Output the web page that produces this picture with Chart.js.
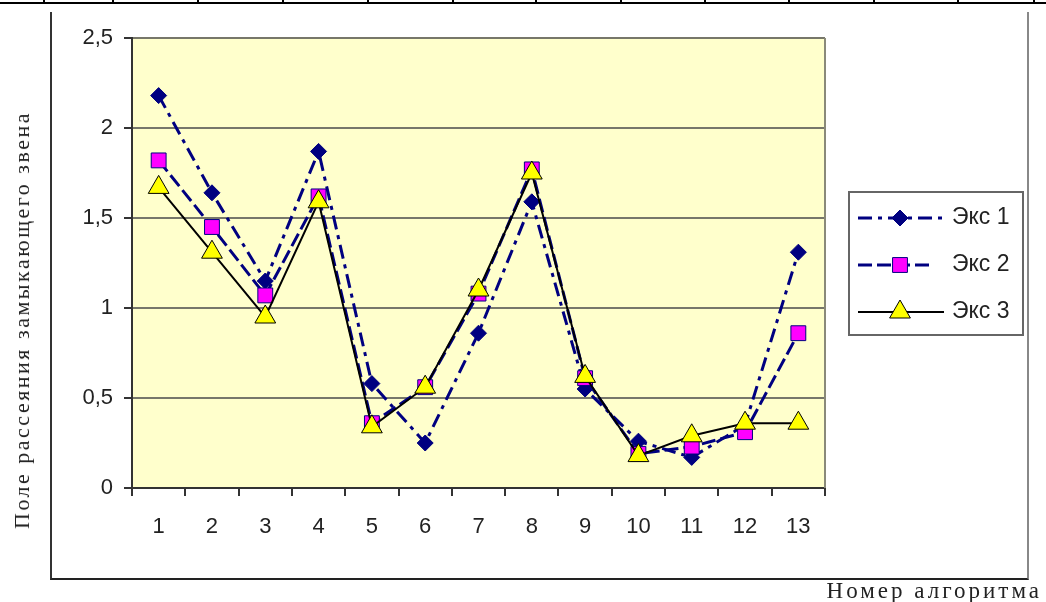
<!DOCTYPE html>
<html lang="ru">
<head>
<meta charset="UTF-8">
<script src="https://cdn.jsdelivr.net/npm/chart.js"></script>
<title>Поле рассеяния</title>
<style>
  body { margin: 0; background: #fff; }
  #page { position: relative; width: 1046px; height: 602px; overflow: hidden; background: #fff; }
  #myChart { position: absolute; left: 0; top: 0; }
  .topline { position: absolute; left: 0; top: 2px; width: 1046px; border-top: 2px solid #000; }
  .tk { position: absolute; top: 0; width: 2px; height: 3px; background: #000; }
  .frame { position: absolute; left: 50px; top: 12px; width: 975px; height: 566px;
           border-left: 2px solid #333; border-right: 2px solid #888; border-bottom: 2px solid #222; }
  .ytitle { position: absolute; left: 22px; top: 320px; transform: translate(-50%, -50%) rotate(-90deg);
            white-space: nowrap; font-family: "Liberation Serif", serif; font-size: 22px;
            letter-spacing: 2.5px; color: #222; }
  .xtitle { position: absolute; right: 4px; top: 578px; white-space: nowrap;
            font-family: "Liberation Serif", serif; font-size: 23px; letter-spacing: 3px; color: #222; }
</style>
</head>
<body>
<div id="page">
  <div class="topline"></div>
  <div class="tk" style="left:43px"></div><div class="tk" style="left:112px"></div>
  <div class="tk" style="left:197px"></div><div class="tk" style="left:282px"></div>
  <div class="tk" style="left:367px"></div><div class="tk" style="left:452px"></div>
  <div class="tk" style="left:535px"></div><div class="tk" style="left:620px"></div>
  <div class="tk" style="left:704px"></div><div class="tk" style="left:788px"></div>
  <div class="tk" style="left:873px"></div><div class="tk" style="left:957px"></div>
  <div class="tk" style="left:1033px"></div>
  <div class="frame"></div>
  <canvas id="myChart" width="1046" height="602"></canvas>
  <div class="ytitle">Поле рассеяния замыкающего звена</div>
  <div class="xtitle">Номер алгоритма</div>
</div>
<script>
// номера алгоритмов
const labels = ['1', '2', '3', '4', '5', '6', '7', '8', '9', '10', '11', '12', '13'];
const eks1 = [2.18, 1.64, 1.15, 1.87, 0.58, 0.25, 0.86, 1.59, 0.55, 0.26, 0.17, 0.35, 1.31];
const eks2 = [1.82, 1.45, 1.07, 1.62, 0.36, 0.56, 1.08, 1.77, 0.61, 0.19, 0.23, 0.31, 0.86];
const eks3 = [1.67, 1.31, 0.95, 1.59, 0.34, 0.56, 1.10, 1.75, 0.62, 0.18, 0.29, 0.36, 0.36];
const seriesNames = ['Экс 1', 'Экс 2', 'Экс 3'];
const yMin = 0, yMax = 2.5, yStep = 0.5;

const tickFont = { family: '"Liberation Sans", Arial, sans-serif', size: 22 };

// жёлтый фон области построения + правая рамка
const plotBg = {
  id: 'plotBg',
  beforeDraw(chart) {
    const { ctx, chartArea: a } = chart;
    ctx.save();
    ctx.fillStyle = '#ffffcc';
    ctx.fillRect(a.left, a.top, a.right - a.left, a.bottom - a.top);
    ctx.restore();
  },
  beforeDatasetsDraw(chart) {
    const { ctx, chartArea: a } = chart;
    ctx.save();
    ctx.strokeStyle = '#8a8a7a';
    ctx.lineWidth = 2;
    ctx.beginPath();
    ctx.moveTo(a.right, a.top);
    ctx.lineTo(a.right, a.bottom);
    ctx.stroke();
    ctx.restore();
  }
};

// легенда в рамке: линия + маркер
const boxLegend = {
  id: 'boxLegend',
  afterDraw(chart) {
    const ctx = chart.ctx;
    ctx.save();
    ctx.fillStyle = '#fff';
    ctx.fillRect(849, 192, 174, 143);
    ctx.strokeStyle = '#666';
    ctx.lineWidth = 2;
    ctx.strokeRect(849, 192, 174, 143);
    const rows = [218, 265, 312];
    chart.data.datasets.forEach((ds, i) => {
      const y = rows[i];
      ctx.save();
      ctx.strokeStyle = ds.borderColor;
      ctx.lineWidth = ds.borderWidth;
      ctx.setLineDash(ds.borderDash || []);
      ctx.beginPath();
      ctx.moveTo(858, y);
      ctx.lineTo(i === 1 ? 932 : 944, y);
      ctx.stroke();
      ctx.restore();
      ctx.save();
      ctx.fillStyle = ds.pointBackgroundColor;
      ctx.strokeStyle = ds.pointBorderColor;
      ctx.lineWidth = ds.pointBorderWidth;
      Chart.helpers.drawPoint(ctx, {
        pointStyle: ds.pointStyle, radius: ds.pointRadius, rotation: 0, borderWidth: ds.pointBorderWidth
      }, 900, y);
      ctx.restore();
      ctx.fillStyle = '#222';
      ctx.font = '23px "Liberation Sans", Arial, sans-serif';
      ctx.textBaseline = 'middle';
      ctx.fillText(ds.label, 952, y);
    });
    ctx.restore();
  }
};

new Chart(document.getElementById('myChart'), {
  type: 'line',
  data: {
    labels: labels,
    datasets: [
      {
        label: seriesNames[0], data: eks1, order: 2,
        borderColor: '#000080', borderWidth: 3, borderDash: [14, 6, 4, 6],
        pointStyle: 'rectRot', pointRadius: 8,
        pointBackgroundColor: '#000080', pointBorderColor: '#000080', pointBorderWidth: 1
      },
      {
        label: seriesNames[1], data: eks2, order: 1,
        borderColor: '#000080', borderWidth: 3, borderDash: [14, 5],
        pointStyle: 'rect', pointRadius: 10.5,
        pointBackgroundColor: '#ff00ff', pointBorderColor: '#000080', pointBorderWidth: 1
      },
      {
        label: seriesNames[2], data: eks3, order: 0,
        borderColor: '#000000', borderWidth: 2,
        pointStyle: 'triangle', pointRadius: 12,
        pointBackgroundColor: '#ffff00', pointBorderColor: '#000000', pointBorderWidth: 1
      }
    ]
  },
  options: {
    responsive: false,
    animation: false,
    devicePixelRatio: 1,
    layout: { padding: { top: 38, right: 221, left: 0, bottom: 0 } },
    plugins: { legend: { display: false }, tooltip: { enabled: false } },
    elements: { line: { tension: 0 } },
    scales: {
      x: {
        offset: true,
        afterFit(scale) { scale.height = 114; },
        grid: { offset: true, drawOnChartArea: false, drawTicks: true, tickLength: 8, color: '#333', lineWidth: 2 },
        border: { color: '#333', width: 2 },
        ticks: { font: tickFont, color: '#222', padding: 18, maxRotation: 0 }
      },
      y: {
        min: yMin, max: yMax,
        afterFit(scale) { scale.width = 132; },
        grid: { color: '#77776a', lineWidth: 2, tickLength: 8, tickColor: '#333' },
        border: { color: '#333', width: 2 },
        ticks: {
          stepSize: yStep, font: tickFont, color: '#222', padding: 11,
          callback: v => String(v).replace('.', ',')
        }
      }
    }
  },
  plugins: [plotBg, boxLegend]
});
</script>
</body>
</html>
